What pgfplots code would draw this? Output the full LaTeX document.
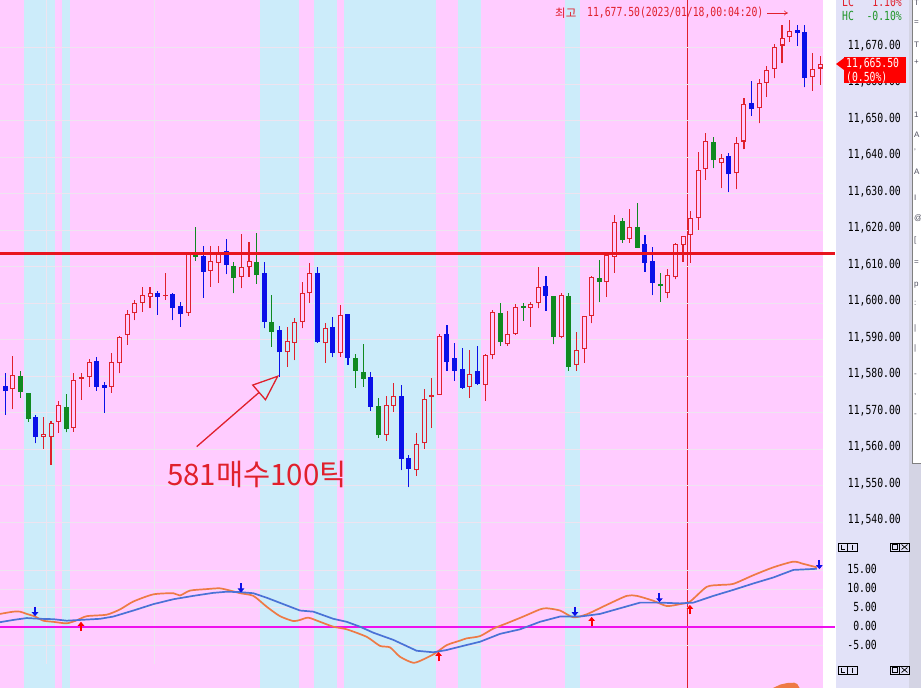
\documentclass[border=0pt]{standalone}
\usepackage{pgfplots}
\pgfplotsset{compat=1.18}
\usepackage{pgfplotstable}
\usepackage{fontspec}
\setmainfont{Liberation Sans}
\newfontfamily\monofont[FakeStretch=0.78]{DejaVu Sans Mono}
\newfontfamily\krfont{Noto Sans CJK KR}
\usetikzlibrary{arrows.meta}
\newcommand\tlf{\monofont\fontsize{12.5}{14}\selectfont}

\definecolor{bgpink}{HTML}{FFCCFF}
\definecolor{bgblue}{HTML}{CCECFA}
\definecolor{cR}{HTML}{E0202C}
\definecolor{cB}{HTML}{0A10E8}
\definecolor{cG}{HTML}{108A20}
\definecolor{gridc}{HTML}{EEE4F0}
\definecolor{hline}{HTML}{E8141E}
\definecolor{macd}{HTML}{EE7A45}
\definecolor{sig}{HTML}{4A72D6}
\definecolor{zline}{HTML}{EE10EE}
\definecolor{lav}{HTML}{E2E2F8}
\definecolor{stripc}{HTML}{D4D4E4}
\definecolor{hcgreen}{HTML}{22962A}
\definecolor{icon}{HTML}{505060}

% red hollow candles on pink
\pgfplotstableread{
i top bot high low
1 11580.3 11576.4 11585.5 11571.0
7 11572.0 11567.4 11573.2 11564.5
9 11579.1 11565.9 11581.0 11564.8
10 11579.7 11579.3 11581.0 11573.5
11 11583.9 11579.7 11584.6 11577.1
14 11583.8 11577.1 11586.4 11575.5
15 11590.8 11583.5 11591.0 11580.8
16 11597.0 11591.3 11598.1 11588.6
17 11600.0 11597.2 11600.9 11595.4
18 11602.3 11600.0 11604.5 11597.7
19 11602.7 11601.8 11604.5 11598.6
21 11602.3 11602.0 11608.4 11600.9
24 11613.7 11597.4 11613.7 11596.6
27 11611.7 11608.9 11615.7 11604.5
28 11613.8 11611.1 11615.7 11605.6
31 11610.0 11607.3 11619.0 11604.1
32 11611.5 11609.8 11616.9 11607.3
39 11602.7 11594.9 11605.9 11593.1
40 11608.2 11602.7 11611.1 11600.0
44 11596.8 11586.4 11599.5 11585.4
57 11591.0 11574.9 11591.7 11574.9
63 11585.8 11577.6 11586.1 11573.3
64 11597.7 11585.8 11598.1 11584.6
66 11591.7 11588.8 11597.9 11588.3
67 11598.9 11591.5 11599.8 11591.3
69 11599.8 11598.8 11600.4 11593.6
70 11604.4 11600.0 11609.8 11598.6
73 11602.2 11590.8 11602.9 11590.4
76 11596.5 11587.4 11596.5 11583.7
77 11607.1 11596.5 11607.5 11594.5
79 11613.2 11605.7 11613.2 11601.8
80 11622.3 11612.7 11624.2 11608.4
82 11621.0 11617.5 11625.7 11616.6
87 11607.7 11602.9 11609.5 11601.3
88 11616.2 11607.1 11616.6 11606.5
89 11618.4 11615.9 11618.4 11611.4
90 11623.3 11618.7 11625.3 11611.1
91 11636.5 11623.3 11641.5 11620.1
92 11644.5 11636.7 11646.5 11633.8
94 11639.7 11638.3 11640.9 11631.5
96 11643.8 11635.6 11645.4 11631.2
97 11654.5 11644.3 11656.1 11642.2
99 11660.2 11653.4 11661.3 11649.3
100 11663.9 11660.4 11665.1 11656.6
101 11670.3 11664.1 11671.0 11661.6
102 11672.6 11670.6 11676.2 11665.7
103 11674.6 11672.8 11677.5 11671.7
106 11664.3 11661.9 11668.6 11658.2
107 11665.5 11664.3 11667.7 11659.8
}\tRp
% red hollow candles on blue bands
\pgfplotstableread{
i top bot high low
5 11564.1 11563.3 11568.7 11560.1
6 11567.1 11563.4 11567.8 11555.7
37 11589.7 11586.5 11593.6 11582.6
38 11594.9 11589.2 11595.9 11584.4
42 11593.1 11589.0 11594.5 11583.7
50 11572.1 11563.9 11574.6 11562.3
51 11574.6 11571.9 11578.2 11570.3
54 11561.4 11554.3 11564.5 11552.7
55 11573.7 11561.6 11576.4 11560.1
56 11574.9 11574.4 11579.4 11565.9
61 11580.5 11577.1 11587.2 11574.1
75 11587.2 11583.1 11592.2 11581.5
}\tRb
% blue filled candles
\pgfplotstableread{
i top bot high low
0 11577.3 11575.9 11581.0 11569.4
4 11568.7 11563.3 11569.4 11561.6
12 11584.2 11577.1 11585.2 11576.0
13 11577.6 11576.9 11578.3 11570.0
20 11602.7 11601.8 11603.3 11596.8
22 11602.5 11598.8 11602.9 11595.4
23 11599.2 11597.0 11600.2 11593.6
26 11612.9 11608.6 11615.7 11601.5
29 11614.3 11610.5 11617.5 11608.0
34 11608.4 11594.9 11611.4 11593.1
36 11592.7 11586.5 11593.8 11579.9
41 11608.2 11589.5 11609.8 11589.2
43 11593.4 11586.4 11596.1 11585.2
45 11597.0 11585.1 11597.0 11583.1
48 11579.9 11571.7 11581.2 11570.6
52 11574.6 11557.3 11577.6 11554.3
53 11557.5 11554.6 11558.3 11549.6
58 11591.6 11584.0 11594.0 11581.5
59 11584.9 11581.5 11589.0 11578.8
60 11582.0 11576.9 11587.6 11576.5
62 11581.4 11577.9 11588.3 11577.6
71 11604.7 11602.0 11607.5 11598.0
84 11616.2 11611.1 11618.7 11608.6
85 11611.6 11605.6 11615.5 11602.2
95 11640.3 11635.3 11641.1 11630.4
98 11654.8 11653.1 11660.9 11651.3
104 11674.9 11674.0 11676.2 11670.5
105 11674.2 11661.8 11676.2 11659.1
}\tB
% green filled candles
\pgfplotstableread{
i top bot high low
2 11580.1 11575.8 11581.5 11574.1
3 11575.5 11568.4 11575.5 11567.5
8 11571.7 11565.6 11575.0 11564.6
25 11613.7 11612.6 11620.8 11611.7
30 11610.2 11607.0 11611.4 11602.7
33 11611.4 11607.7 11619.1 11605.4
35 11594.8 11592.2 11602.3 11588.1
46 11584.9 11581.5 11586.1 11576.9
47 11581.1 11579.3 11588.7 11577.1
49 11571.8 11563.9 11574.0 11563.2
65 11597.2 11589.5 11600.1 11588.3
68 11599.2 11598.8 11600.1 11595.2
72 11602.0 11590.8 11602.0 11588.7
74 11602.0 11582.6 11602.7 11581.5
78 11606.8 11605.9 11611.8 11600.3
81 11622.6 11617.3 11623.3 11616.6
83 11620.8 11615.2 11627.4 11615.2
86 11605.4 11604.7 11608.4 11600.4
93 11644.3 11639.1 11645.4 11637.0
}\tG

\pgfplotsset{
  cbar/.style n args={2}{only marks, mark=*, mark size=0pt,
    mark options={draw=none, fill=none}, forget plot,
    error bars/.cd, y dir=plus, y explicit, error mark=none,
    error bar style={draw=#1, line width=#2, line cap=butt}},
  panel/.style={width=823pt, scale only axis, xmin=-0.7, xmax=107.38,
    clip=false, axis line style={draw=none}, xtick=\empty,
    major tick length=0pt, yticklabel pos=right, scaled y ticks=false,
    axis background/.style={fill=bgpink},
    /pgf/number format/assume math mode=true,
    y tick label style={/pgf/number format/fixed, /pgf/number format/fixed zerofill,
      /pgf/number format/precision=2, /pgf/number format/1000 sep={,},
      anchor=east, inner sep=0pt, font=\tlf}},
}

\begin{document}
\begin{tikzpicture}[x=1pt,y=1pt]
\useasboundingbox (0,0) rectangle (921,-688);
\fill[white] (0,0) rectangle (921,-688);
\fill[lav] (836,0) rectangle (909,-688);
\fill[stripc] (909,0) rectangle (921,-688);
\fill[white] (912,0) rectangle (921,-463);
\draw[gray, line width=0.8pt] (912,0) -- (912,-463) -- (921,-463);
\foreach \yy/\ch in {3/T,23/=,45/T,62/+,115/1,135/A,152/',172/A,198/I,218/@,240/[,263/=,285/p,303/:,328/|,348/|,375/-,395/{,},415/-}{
  \node[anchor=west, text=icon, font=\fontsize{8}{8}\selectfont, inner sep=0pt] at (914,-\yy) {\ch};}

% ================= main price panel =================
\begin{axis}[panel, at={(0pt,0pt)}, anchor=north west, height=539pt,
  ymin=11535.4, ymax=11683.07, ytick={11540,11550,...,11670},
  y tick label style={xshift=78pt, yshift=2pt}]
  \addplot[fill=bgblue, draw=none, forget plot] coordinates {(2.5,11535.4) (6.5,11535.4) (6.5,11683.07) (2.5,11683.07)} -- cycle;
  \addplot[fill=bgblue, draw=none, forget plot] coordinates {(7.5,11535.4) (8.5,11535.4) (8.5,11683.07) (7.5,11683.07)} -- cycle;
  \addplot[fill=bgblue, draw=none, forget plot] coordinates {(33.5,11535.4) (38.5,11535.4) (38.5,11683.07) (33.5,11683.07)} -- cycle;
  \addplot[fill=bgblue, draw=none, forget plot] coordinates {(40.5,11535.4) (43.5,11535.4) (43.5,11683.07) (40.5,11683.07)} -- cycle;
  \addplot[fill=bgblue, draw=none, forget plot] coordinates {(44.5,11535.4) (56.5,11535.4) (56.5,11683.07) (44.5,11683.07)} -- cycle;
  \addplot[fill=bgblue, draw=none, forget plot] coordinates {(59.5,11535.4) (62.5,11535.4) (62.5,11683.07) (59.5,11683.07)} -- cycle;
  \addplot[fill=bgblue, draw=none, forget plot] coordinates {(73.5,11535.4) (75.5,11535.4) (75.5,11683.07) (73.5,11683.07)} -- cycle;
  \addplot[cR, line width=0.8pt, forget plot] coordinates {(89.56,11535.4) (89.56,11683.07)};
  \pgfplotsinvokeforeach{11540,11550,...,11670}{
    \addplot[gridc, line width=1pt, forget plot] coordinates {(-0.7,#1) (107.38,#1)};}
  \addplot[gridc, line width=0.8pt, forget plot] coordinates {(5.44,11535.4) (5.44,11683.07)};
  \addplot[gridc, line width=0.8pt, forget plot] coordinates {(19.57,11535.4) (19.57,11683.07)};
  % wicks
  \addplot[cbar={cR}{1.1pt}] table[x=i, y=low, y error expr=\thisrow{high}-\thisrow{low}] {\tRp};
  \addplot[cbar={cR}{1.1pt}] table[x=i, y=low, y error expr=\thisrow{high}-\thisrow{low}] {\tRb};
  \addplot[cbar={cB}{1.1pt}] table[x=i, y=low, y error expr=\thisrow{high}-\thisrow{low}] {\tB};
  \addplot[cbar={cG}{1.1pt}] table[x=i, y=low, y error expr=\thisrow{high}-\thisrow{low}] {\tG};
  % bodies
  \addplot[cbar={cR}{5pt}] table[x=i, y=bot, y error expr=\thisrow{top}-\thisrow{bot}] {\tRp};
  \addplot[cbar={cR}{5pt}] table[x=i, y=bot, y error expr=\thisrow{top}-\thisrow{bot}] {\tRb};
  \addplot[cbar={cB}{5pt}] table[x=i, y=bot, y error expr=\thisrow{top}-\thisrow{bot}] {\tB};
  \addplot[cbar={cG}{5pt}] table[x=i, y=bot, y error expr=\thisrow{top}-\thisrow{bot}] {\tG};
  % hollow interiors
  \addplot[cbar={bgpink}{3pt}] table[x=i, y expr=\thisrow{bot}+0.28, y error expr={max(\thisrow{top}-\thisrow{bot}-0.56,0)}] {\tRp};
  \addplot[cbar={bgblue}{3pt}] table[x=i, y expr=\thisrow{bot}+0.28, y error expr={max(\thisrow{top}-\thisrow{bot}-0.56,0)}] {\tRb};
  % horizontal level line
  \addplot[hline, line width=3pt, forget plot] coordinates {(-0.7,11613.7) (108.96,11613.7)};
  % annotation arrow
  \draw[cR, line width=1.3pt, -{Triangle[open, length=27pt, width=21pt]}] (axis cs:25.13,11560.7) -- (axis cs:35.94,11580.3);
\end{axis}

% ================= indicator panel =================
\begin{axis}[panel, at={(0pt,-539pt)}, anchor=north west, height=125pt,
  ymin=-9.92, ymax=23.32, ytick={-5,0,5,10,15},
  y tick label style={xshift=54pt, yshift=1pt}]
  \addplot[fill=bgblue, draw=none, forget plot] coordinates {(2.5,-9.92) (6.5,-9.92) (6.5,23.32) (2.5,23.32)} -- cycle;
  \addplot[fill=bgblue, draw=none, forget plot] coordinates {(7.5,-9.92) (8.5,-9.92) (8.5,23.32) (7.5,23.32)} -- cycle;
  \addplot[fill=bgblue, draw=none, forget plot] coordinates {(33.5,-9.92) (38.5,-9.92) (38.5,23.32) (33.5,23.32)} -- cycle;
  \addplot[fill=bgblue, draw=none, forget plot] coordinates {(40.5,-9.92) (43.5,-9.92) (43.5,23.32) (40.5,23.32)} -- cycle;
  \addplot[fill=bgblue, draw=none, forget plot] coordinates {(44.5,-9.92) (56.5,-9.92) (56.5,23.32) (44.5,23.32)} -- cycle;
  \addplot[fill=bgblue, draw=none, forget plot] coordinates {(59.5,-9.92) (62.5,-9.92) (62.5,23.32) (59.5,23.32)} -- cycle;
  \addplot[fill=bgblue, draw=none, forget plot] coordinates {(73.5,-9.92) (75.5,-9.92) (75.5,23.32) (73.5,23.32)} -- cycle;
  \addplot[cR, line width=0.8pt, forget plot] coordinates {(89.56,-9.92) (89.56,23.32)};
  \pgfplotsinvokeforeach{-10,-5,5,10,15}{
    \addplot[gridc, line width=1pt, forget plot] coordinates {(-0.7,#1) (107.38,#1)};}
  \addplot[gridc, line width=0.8pt, forget plot] coordinates {(5.44,-9.92) (5.44,23.32)};
  \addplot[gridc, line width=0.8pt, forget plot] coordinates {(19.57,-9.92) (19.57,23.32)};
  \addplot[zline, line width=2pt, forget plot] coordinates {(-0.7,0) (108.96,0)};
  \addplot[macd, line width=1.7pt, smooth, tension=0.4, forget plot] coordinates {
   (-0.70,3.4) (1.05,4.0) (1.93,4.0) (2.81,3.4) (3.90,2.7) (4.99,1.6) (6.30,1.3) (8.06,0.9)
   (9.38,1.7) (10.69,2.8) (13.31,3.2) (15.06,4.6) (16.81,6.7) (19.44,8.6) (22.06,8.9) (22.94,8.3)
   (24.25,9.6) (26.45,10.0) (28.19,10.2) (29.94,9.4) (30.82,8.9) (32.57,8.2) (34.33,5.3) (36.07,2.8)
   (37.82,1.5) (38.70,1.8) (39.79,2.4) (41.33,1.3) (43.07,0.0) (44.83,-0.7) (47.46,-2.7) (49.20,-5.1)
   (50.52,-5.5) (51.83,-8.0) (53.58,-9.6) (54.89,-8.7) (56.43,-7.1) (57.96,-4.9) (59.71,-3.7)
   (60.59,-3.1) (62.34,-2.5) (64.09,-0.5) (65.84,0.9) (68.02,2.7) (70.21,4.6) (71.10,4.9) (72.84,4.3)
   (74.59,2.5) (76.35,3.3) (78.97,5.8) (81.60,8.2) (82.92,8.2) (85.10,6.9) (86.86,5.5) (88.60,6.0)
   (89.92,6.7) (92.11,10.6) (93.86,11.1) (95.61,11.4) (98.24,13.7) (100.87,15.8) (103.49,17.3)
   (104.80,16.7) (106.56,15.8)};
  \addplot[sig, line width=1.7pt, forget plot] coordinates {
   (-0.70,1.2) (1.05,1.8) (2.81,2.3) (4.56,2.1) (6.30,2.0) (8.06,1.6) (9.81,1.8) (12.44,2.1)
   (14.18,2.7) (16.81,4.3) (19.44,6.0) (22.06,7.3) (24.69,8.2) (27.31,9.0) (29.07,9.3) (30.82,9.2)
   (32.57,8.9) (34.33,7.7) (36.51,6.0) (38.70,4.3) (40.45,4.0) (43.07,2.1) (44.83,1.3) (46.58,0.0)
   (48.33,-1.6) (50.95,-3.5) (54.02,-6.4) (56.21,-6.8) (57.96,-6.2) (59.71,-5.3) (62.34,-4.0)
   (64.97,-1.9) (67.59,-0.7) (70.21,1.3) (72.84,2.7) (75.47,2.7) (78.10,3.4) (80.72,4.9) (83.35,6.4)
   (85.98,6.4) (88.60,6.2) (90.36,6.4) (92.99,8.2) (95.61,9.8) (98.24,11.5) (100.87,13.1)
   (103.49,15.1) (106.56,15.4)};
  \addplot[cB, line width=2pt, -{Triangle[length=4pt, width=6.5pt]}, quiver={u=0, v=-2.5}, forget plot]
    coordinates {(3.9,5.3) (30.95,11.6) (74.8,5.3) (85.9,9.0) (106.9,17.8)};
  \addplot[red, line width=2pt, -{Triangle[length=4pt, width=6.5pt]}, quiver={u=0, v=2.5}, forget plot]
    coordinates {(9.94,-1.2) (56.9,-9.2) (77.0,0.1) (89.9,3.3)};
\end{axis}

% ================= third panel (cut) =================
\begin{axis}[panel, at={(0pt,-664pt)}, anchor=north west, height=60pt,
  ymin=0, ymax=60, ytick=\empty, clip=true]
  \addplot[fill=bgblue, draw=none, forget plot] coordinates {(2.5,0) (6.5,0) (6.5,60) (2.5,60)} -- cycle;
  \addplot[fill=bgblue, draw=none, forget plot] coordinates {(7.5,0) (8.5,0) (8.5,60) (7.5,60)} -- cycle;
  \addplot[fill=bgblue, draw=none, forget plot] coordinates {(33.5,0) (38.5,0) (38.5,60) (33.5,60)} -- cycle;
  \addplot[fill=bgblue, draw=none, forget plot] coordinates {(40.5,0) (43.5,0) (43.5,60) (40.5,60)} -- cycle;
  \addplot[fill=bgblue, draw=none, forget plot] coordinates {(44.5,0) (56.5,0) (56.5,60) (44.5,60)} -- cycle;
  \addplot[fill=bgblue, draw=none, forget plot] coordinates {(59.5,0) (62.5,0) (62.5,60) (59.5,60)} -- cycle;
  \addplot[fill=bgblue, draw=none, forget plot] coordinates {(73.5,0) (75.5,0) (75.5,60) (73.5,60)} -- cycle;
  \addplot[cR, line width=0.8pt, forget plot] coordinates {(89.56,0) (89.56,60)};
  \addplot[fill=macd, draw=none, forget plot] coordinates {(100.5,0) (100.5,30) (100.8,36) (101.8,39.5) (102.7,41) (103.6,41.3) (104.0,40) (104.3,36) (104.6,30) (104.6,0)} -- cycle;
\end{axis}

% ================= texts and decorations =================
\node[anchor=west, text=cR, font=\krfont\fontsize{29.5}{30}\selectfont, inner sep=0pt] at (167,-474) {581매수100틱};
\node[anchor=west, text=cR, font=\krfont\fontsize{11.5}{12}\selectfont, inner sep=0pt] at (555,-13) {최고};
\node[anchor=west, text=cR, font=\tlf, inner sep=0pt] at (587,-13) {11,677.50(2023/01/18,00:04:20)};
\draw[cR, line width=0.6pt, -{To[length=4pt, width=5pt]}] (767,-13) -- (788,-13);

\node[anchor=west, text=cR, font=\tlf, inner sep=0pt] at (842,-2) {LC};
\node[anchor=east, text=cR, font=\tlf, inner sep=0pt] at (902,-2) {1.10\%};
\node[anchor=west, text=hcgreen, font=\tlf, inner sep=0pt] at (842,-16) {HC};
\node[anchor=east, text=hcgreen, font=\tlf, inner sep=0pt] at (902,-16) {-0.10\%};

\fill[red] (844,-56.7) rectangle (906,-83.3);
\fill[red] (836,-64) -- (844,-58) -- (844,-70) -- cycle;
\node[anchor=north west, text=white, font=\tlf, inner sep=0pt, align=left] at (846,-58) {11,665.50\\(0.50\%)};

\foreach \yy in {543,666}{
  \draw[black, line width=0.7pt] (838,-\yy) rectangle (857,-\yy-8);
  \draw[black, line width=0.7pt] (847.5,-\yy) -- (847.5,-\yy-8);
  \draw[black, line width=0.7pt] (841,-\yy-1.5) -- (841,-\yy-6.5) -- (845,-\yy-6.5);
  \draw[black, line width=0.7pt] (852.2,-\yy-1.5) -- (852.2,-\yy-6.5);
  \draw[black, line width=0.7pt] (890,-\yy) rectangle (909,-\yy-8);
  \draw[black, line width=0.7pt] (899.5,-\yy) -- (899.5,-\yy-8);
  \draw[black, line width=0.7pt] (892.5,-\yy-1.8) rectangle (897,-\yy-6.2);
  \draw[black, line width=0.7pt] (901.5,-\yy-1.5) -- (907.5,-\yy-6.5) (901.5,-\yy-6.5) -- (907.5,-\yy-1.5);
}
\end{tikzpicture}
\end{document}
